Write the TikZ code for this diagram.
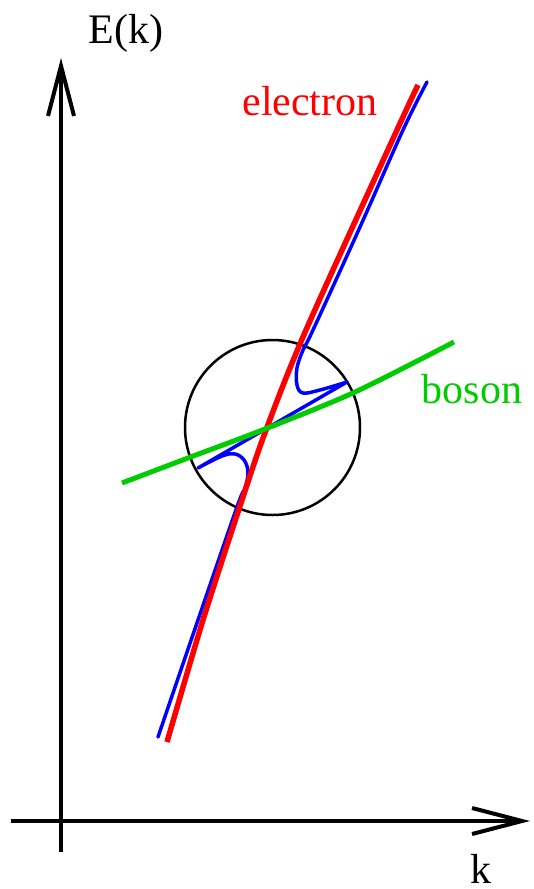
\documentclass[tikz,border=0pt]{standalone}
\usepackage{fontspec}
\newfontfamily\timesface{LiberationSerif}[Extension=.ttf, UprightFont=*-Regular]
\usetikzlibrary{arrows.meta}
\definecolor{bosongreen}{RGB}{0,204,0}
\begin{document}
\begin{tikzpicture}[x=1pt,y=-1pt,
  axis/.style={line width=4pt,-{Straight Barb[length=50pt,width=26pt]}},
  lbl/.style={font=\timesface\fontsize{42}{50}\selectfont, inner sep=0pt, anchor=base},
  electronline/.style={red, line width=5.5pt, line cap=butt},
  bosonline/.style={bosongreen, line width=5pt, line cap=butt},
  polariton/.style={blue, line width=3.5pt, line join=round, line cap=round},
  zoomring/.style={draw, circle, line width=2.5pt, minimum size=175pt, inner sep=0pt}]
\useasboundingbox (0,0) rectangle (534,889);
% axes
\coordinate (yfoot) at (61,852);
\coordinate (ytip) at (61,58);
\coordinate (xfoot) at (11,821);
\coordinate (xtip) at (530,821);
\draw[axis] (yfoot) -- (ytip);
\draw[axis] (xfoot) -- (xtip);
\node[lbl] (elabel) at (126,43) {E(k)};
\node[lbl] (klabel) at (481,883) {k};
% circle
\node[zoomring] (zoomcircle) at (272.5,427.5) {};
% mixed branches
\draw[polariton] plot[smooth, tension=0.6] coordinates {(158,737) (198,620) (237,507) (245,488) (248,472) (244,460) (235,454) (222,456) (198,468)}
  -- (347,382)
  -- plot[smooth, tension=0.6] coordinates {(347,382) (320,390) (303,393) (297,385) (297,368) (303,350) (313,330) (360,227) (403,130) (427,82)};
% electron
\draw[electronline] plot[smooth] coordinates {(167,742) (203,620) (242,500) (266,430) (306,330) (397,130) (418,85)};
% boson
\draw[bosonline] plot[smooth] coordinates {(122,483) (188,458) (265,429) (355,392) (454,342)};
\node[lbl, text=red] (electronlabel) at (310,115) {electron};
\node[lbl, text=bosongreen] (bosonlabel) at (472,403) {boson};
\end{tikzpicture}
\end{document}
